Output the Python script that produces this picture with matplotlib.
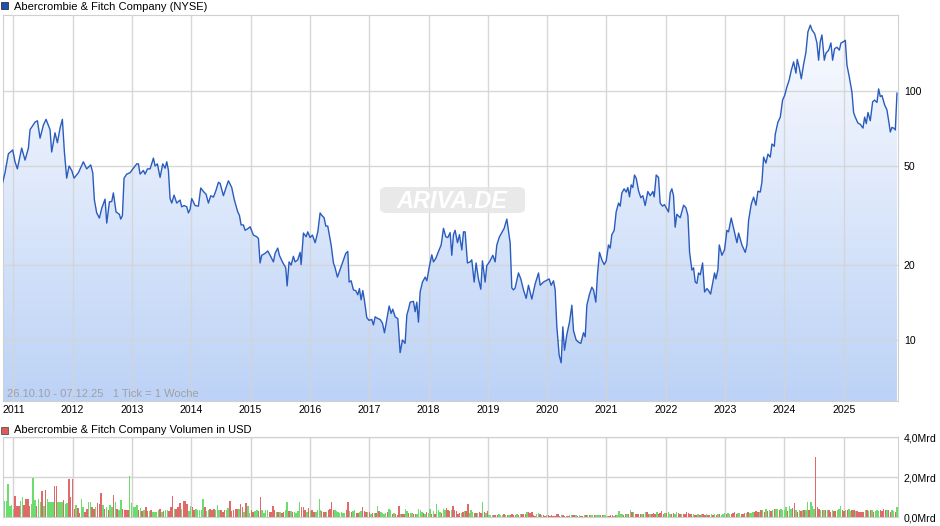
import numpy as np
import matplotlib.pyplot as plt
from matplotlib.colors import LinearSegmentedColormap
from matplotlib.patches import Rectangle, FancyBboxPatch
from matplotlib.ticker import NullLocator

plt.rcParams['font.family'] = ['Liberation Sans', 'DejaVu Sans']

# weekly close (USD), dates as decimal years
dates = [
    2010.821, 2010.860, 2010.917, 2010.990, 2011.029, 2011.068, 2011.141, 2011.198, 2011.254, 2011.282,
    2011.366, 2011.406, 2011.451, 2011.507, 2011.552, 2011.619, 2011.647, 2011.703, 2011.743, 2011.788,
    2011.827, 2011.861, 2011.900, 2011.940, 2011.985, 2012.024, 2012.097, 2012.181, 2012.237, 2012.305,
    2012.339, 2012.367, 2012.406, 2012.451, 2012.490, 2012.547, 2012.575, 2012.620, 2012.659, 2012.687,
    2012.732, 2012.788, 2012.811, 2012.839, 2012.867, 2012.912, 2012.968, 2013.024, 2013.081, 2013.109,
    2013.137, 2013.193, 2013.221, 2013.261, 2013.306, 2013.362, 2013.390, 2013.429, 2013.474, 2013.519,
    2013.558, 2013.587, 2013.615, 2013.643, 2013.671, 2013.710, 2013.755, 2013.811, 2013.839, 2013.879,
    2013.924, 2013.952, 2013.980, 2014.008, 2014.064, 2014.120, 2014.160, 2014.205, 2014.250, 2014.289,
    2014.329, 2014.374, 2014.418, 2014.458, 2014.486, 2014.542, 2014.587,
    2014.626, 2014.682, 2014.727, 2014.784, 2014.812, 2014.840, 2014.879, 2014.907, 2014.952, 2014.992,
    2015.048, 2015.104, 2015.132, 2015.160, 2015.188, 2015.245, 2015.290, 2015.329, 2015.385, 2015.413,
    2015.458, 2015.486, 2015.537, 2015.593, 2015.616, 2015.649, 2015.683, 2015.722, 2015.750, 2015.795,
    2015.835, 2015.852, 2015.891, 2015.936, 2015.964, 2016.003, 2016.043, 2016.088, 2016.133, 2016.172,
    2016.200, 2016.239, 2016.268, 2016.301, 2016.358, 2016.397, 2016.425, 2016.464, 2016.509, 2016.566,
    2016.605, 2016.639, 2016.661, 2016.695, 2016.734, 2016.773, 2016.807, 2016.835, 2016.863, 2016.892,
    2016.920, 2016.959, 2016.998, 2017.043, 2017.071, 2017.100, 2017.144, 2017.184, 2017.223, 2017.257,
    2017.296, 2017.336, 2017.369, 2017.397, 2017.437, 2017.482, 2017.521, 2017.560, 2017.605, 2017.634,
    2017.662, 2017.690, 2017.746, 2017.774, 2017.802, 2017.830, 2017.858, 2017.898, 2017.943, 2017.971,
    2018.010, 2018.055, 2018.083, 2018.123, 2018.168, 2018.213, 2018.252, 2018.291, 2018.325, 2018.364,
    2018.392,
    2018.420, 2018.448, 2018.488, 2018.521, 2018.561, 2018.589, 2018.617, 2018.656, 2018.701, 2018.729,
    2018.769, 2018.802, 2018.842, 2018.881, 2018.909, 2018.954, 2018.982, 2019.027, 2019.084, 2019.123,
    2019.151, 2019.196, 2019.235, 2019.275, 2019.320, 2019.376, 2019.404, 2019.432, 2019.460, 2019.516,
    2019.556, 2019.601, 2019.646, 2019.685, 2019.741, 2019.797, 2019.854, 2019.882, 2019.938, 2019.994,
    2020.033, 2020.067, 2020.107, 2020.135, 2020.163, 2020.202, 2020.236, 2020.264, 2020.292, 2020.331,
    2020.376, 2020.416, 2020.444, 2020.489, 2020.528, 2020.567, 2020.612, 2020.641, 2020.669, 2020.714,
    2020.753, 2020.781, 2020.820, 2020.848, 2020.882, 2020.922, 2020.961, 2020.995, 2021.034, 2021.062,
    2021.090, 2021.130, 2021.163, 2021.203, 2021.231, 2021.259, 2021.298, 2021.332, 2021.360, 2021.388,
    2021.416, 2021.444, 2021.472, 2021.501, 2021.540, 2021.579, 2021.613, 2021.652, 2021.697, 2021.737,
    2021.782, 2021.804, 2021.838, 2021.877, 2021.905, 2021.945, 2021.978, 2022.006, 2022.046, 2022.074,
    2022.102, 2022.130, 2022.158, 2022.186,
    2022.243, 2022.300, 2022.339, 2022.373, 2022.401, 2022.440, 2022.468, 2022.496, 2022.524, 2022.552,
    2022.581, 2022.620, 2022.654, 2022.693, 2022.721, 2022.755, 2022.789, 2022.822, 2022.845, 2022.879,
    2022.901, 2022.946, 2022.991, 2023.030, 2023.058, 2023.103, 2023.143, 2023.199, 2023.227, 2023.283,
    2023.339, 2023.368, 2023.396, 2023.441, 2023.480, 2023.519, 2023.553, 2023.592, 2023.620, 2023.649,
    2023.688, 2023.722, 2023.761, 2023.789, 2023.829, 2023.845, 2023.890, 2023.930, 2023.969, 2024.003,
    2024.042, 2024.081, 2024.115, 2024.155, 2024.194, 2024.216, 2024.250, 2024.284, 2024.323, 2024.362,
    2024.396, 2024.436, 2024.464, 2024.509, 2024.548, 2024.576, 2024.604, 2024.632, 2024.672, 2024.700,
    2024.745, 2024.784, 2024.812, 2024.846, 2024.885, 2024.925, 2024.953, 2024.998, 2025.026, 2025.054,
    2025.093, 2025.138, 2025.166, 2025.194, 2025.239, 2025.279, 2025.324, 2025.352, 2025.380, 2025.408,
    2025.447, 2025.487, 2025.520, 2025.560, 2025.588, 2025.616, 2025.644, 2025.689, 2025.728, 2025.757,
    2025.785, 2025.813, 2025.841, 2025.869, 2025.897,
]
prices = [
    43, 47, 56, 58, 52, 48.7, 59, 52.8, 59, 70,
    75, 76, 64.7, 73, 77, 70, 56.9, 68, 62, 71,
    77, 57, 44.7, 50, 48, 44.7, 47, 52, 48.7, 50.5,
    47, 36.5, 32.4, 30.9, 33.8, 36.8, 29.5, 35.9, 36, 39,
    32.7, 32, 30.6, 31.6, 44.7, 46.4, 47, 49, 51, 51,
    46.4, 48, 46.4, 48.7, 48.7, 53.8, 50, 51, 45, 51,
    49, 52, 48, 37, 35.5, 38.2, 35.5, 36.5, 34.3, 34.7,
    34.3, 32.4, 33.5, 37, 34.7, 34.5, 40.8, 39.5, 38.5, 35.5,
    38, 37.5, 40, 43, 42.6, 38, 41,
    43.6, 41, 36.5, 32.7, 31.7, 29, 29, 27.6, 28, 28.5,
    26.4, 26, 25.6, 20.4, 21.9, 22.3, 22.8, 21.9, 20.6, 22.3,
    23.4, 21.9, 20.6, 19.5, 16.5, 20.6, 20, 21.7, 20.6, 21,
    22.5, 20.1, 26.9, 26, 27.2, 25.8, 26.4, 24.6, 27.2, 32.4,
    31.7, 31, 28.7, 28.7, 24.1, 20.4, 19.5, 17.9, 19.2, 21,
    22.3, 22.7, 17.1, 17.3, 15.9, 15.8, 15.2, 16.1, 14.5, 15.8,
    14.4, 12.3, 12, 12.1, 11.5, 12.4, 12.2, 12.1, 11.7, 10.7,
    12.1, 13.7, 12.8, 13.3, 12.4, 12.2, 8.9, 10, 9.7, 12.6,
    13.3, 14.2, 14.3, 13, 14.2, 11.8, 15.6, 17.1, 17.9, 17.3,
    19.5, 22, 20.6, 21.3, 22.7, 24.1, 28.1, 26, 25.8, 27,
    21.9,
    26.5, 27.6, 24.6, 26.5, 23, 27.2, 27.2, 20.4, 20.6, 21,
    17.1, 20.4, 17.6, 16, 20.8, 17.1, 19.9, 20.6, 21.9, 20.6,
    24.1, 26, 27, 28.1, 30.6, 24.6, 16.2, 15.9, 16.2, 18.6,
    17.6, 15.9, 14.7, 16.6, 14.6, 16.8, 18.6, 16.6, 17.1, 17.4,
    17.6, 16.6, 17.3, 15.9, 11.3, 8.7, 8.1, 11.3, 9.1, 10.5,
    11.8, 13.8, 10.9, 10, 9.8, 9.7, 10.7, 10.3, 13.8, 15.3,
    16.3, 15.9, 14.2, 18.3, 22.5, 21, 20.1, 20.8, 24.1, 23.4,
    26.5, 27.6, 32.7, 35.5, 34.5, 39, 40.5, 39.3, 41, 37.6,
    42, 41, 46, 44.7, 39.8, 37.3, 38, 34.7, 39.5, 38,
    39.5, 37.6, 46, 45, 35.5, 34.5, 35, 34, 32.7, 39,
    40.5, 38, 28.4, 32,
    31, 34.8, 34, 31.6, 22.5, 19.1, 19.5, 17.1, 16.9, 18.6,
    18.3, 20.4, 15.6, 16.1, 15.8, 15.3, 16.9, 18.6, 17.6, 19.2,
    24.1, 21.9, 23.1, 27.6, 27.2, 30.9, 28.1, 24.6, 26.9, 24.1,
    22.5, 24.1, 30.3, 35.2, 37.5, 34.8, 39.6, 39.3, 43, 54.3,
    51.4, 55.8, 54.3, 61.3, 60, 67, 75, 78.6, 92, 96,
    104, 111, 121, 131, 118, 134, 124, 112, 128, 143,
    173, 184, 176, 170, 156, 133, 158, 168, 133, 142,
    146, 156, 133, 148, 150, 146, 156, 158, 160, 127,
    114, 99, 82, 78.6, 74.4, 73.5, 71, 78.6, 74, 82,
    76, 90.6, 92, 90, 102, 95, 96, 88, 84, 76,
    68.5, 71.5, 71, 69.8, 98,
]

years = list(range(2011, 2026))
price_ticks = [10, 20, 50, 100]
vol_ticks = [0, 2, 4]
vol_tick_labels = ['0,0Mrd', '2,0Mrd', '4,0Mrd']

# volume in Mrd USD, three stretches of the time axis; g = up week, r = down week
vol_spans = [(2010.821, 2016.160), (2016.172, 2021.540), (2021.569, 2025.924)]
vol_a = [
    0.74, 0.82, 0.82, 1.67, 0.57, 0.62, 0.41, 1.07, 0.57, 0.57,
    0.82, 1.02, 0.62, 0.90, 0.90, 0.57, 0.66, 1.97, 0.85, 0.57,
    0.90, 0.74, 1.31, 0.57, 1.36, 0.90, 0.74, 0.74, 0.77, 1.56,
    1.56, 0.74, 0.77, 0.77, 0.85, 0.66, 0.69, 1.92, 0.98, 1.92,
    0.41, 0.62, 0.46, 0.20, 0.90, 0.52, 0.25, 0.41, 0.74, 0.77,
    0.49, 0.41, 0.52, 0.70, 0.66, 1.18, 0.62, 0.41, 0.52, 0.33,
    0.61, 0.49, 1.11, 0.77, 0.41, 0.33, 0.85, 0.41, 0.36, 0.36,
    0.33, 2.05, 0.70, 0.49, 0.52, 0.61, 0.33, 0.44, 0.30, 0.33,
    0.52, 0.30, 0.30, 0.33, 0.25, 0.25, 0.25, 0.36, 0.41, 0.25,
    0.30, 0.36, 0.36, 0.30, 0.49, 1.07, 0.41, 0.41, 0.49, 0.69,
    0.41, 0.82, 0.82, 0.66, 0.28, 0.57, 0.49, 0.33, 0.41, 0.33,
    0.36, 0.33, 0.90, 0.49, 0.28, 0.36, 0.41, 0.33, 0.41, 0.33,
    0.62, 0.33, 0.33, 0.25, 0.33, 0.33, 0.44, 0.82, 0.30, 0.36,
    0.41, 0.41, 0.41, 0.66, 0.49, 0.25, 0.72, 0.57, 0.20, 0.36,
    0.25, 0.30, 0.33, 0.30, 1.02, 0.36, 0.20, 0.33, 0.33, 0.25,
    0.25, 0.57, 0.36, 0.25, 0.25, 0.25, 0.20, 0.25, 0.33, 0.74,
    0.28, 0.28, 0.25, 0.25, 0.20, 0.28, 0.77, 0.52, 0.49, 0.36,
    0.25, 0.46, 0.30, 0.33, 0.25, 0.25, 0.36, 0.90,
]
dir_a = ("gggggggrrr" "ggrrrrgggr" "ggrgrggggr" "rgggrggrrr" "rgrrggrrgg"
         "rrgrrrgrgr" "ggrgrggrrr" "rgggggrgrg" "rrgrggggrg" "rggrrrgrrr"
         "grrrggrrgg" "gggrggrrrg" "ggrrrggrrr" "rrgrrgrggr" "rggrrggggr"
         "rrrgrgrrgg" "rgrggggrrr" "grgrrggg")
vol_b = [
    0.33, 0.30, 0.25, 0.25, 0.25, 0.33, 0.38, 0.77, 0.33, 0.36,
    0.30, 0.25, 0.20, 0.25, 0.20, 0.20, 0.33, 0.77, 0.28, 0.25,
    0.30, 0.33, 0.20, 0.20, 0.25, 0.30, 0.49, 0.30, 0.25, 0.25,
    0.25, 0.16, 0.20, 0.20, 0.20, 0.57, 0.28, 0.25, 0.20, 0.16,
    0.20, 0.25, 0.41, 0.36, 0.16, 0.21, 0.16, 0.08, 0.57, 0.16,
    0.13, 0.13, 0.41, 0.28, 0.20, 0.20, 0.20, 0.13, 0.16, 0.16,
    0.41, 0.33, 0.25, 0.20, 0.13, 0.25, 0.20, 0.41, 0.16, 0.28,
    0.16, 0.66, 0.33, 0.25, 0.20, 0.41, 0.33, 0.44, 0.33, 0.30,
    0.33, 0.57, 0.33, 0.30, 0.16, 0.20, 0.20, 0.25, 0.30, 0.28,
    0.66, 0.20, 0.33, 0.25, 0.20, 0.20, 0.20, 0.25, 0.20, 0.77,
    0.25, 0.20, 0.28, 0.08, 0.08, 0.08, 0.08, 0.08, 0.08, 0.16,
    0.11, 0.08, 0.13, 0.08, 0.08, 0.08, 0.08, 0.16, 0.11, 0.08,
    0.13, 0.08, 0.13, 0.13, 0.13, 0.13, 0.25, 0.25, 0.20, 0.25,
    0.08, 0.07, 0.13, 0.20, 0.13, 0.08, 0.08, 0.07, 0.08, 0.08,
    0.07, 0.08, 0.07, 0.07, 0.13, 0.13, 0.07, 0.08, 0.08, 0.03,
    0.03, 0.03, 0.08, 0.08, 0.08, 0.08, 0.08, 0.05, 0.08, 0.03,
    0.03, 0.08, 0.08, 0.08, 0.08, 0.08, 0.08, 0.08, 0.08, 0.08,
    0.08, 0.08, 0.08, 0.08, 0.08, 0.05, 0.05, 0.08, 0.08, 0.05,
    0.08, 0.08, 0.28, 0.16, 0.16, 0.08, 0.13, 0.16, 0.13, 0.33,
    0.25, 0.25, 0.13, 0.16, 0.13,
]
dir_b = ("grrrgrrrrg" "ggggggrrgr" "ggrrggrrrg" "rgrgrgrggg" "grggrgrrrg"
         "rrggrggrrg" "gggrgrggrg" "rgggrggrrr" "grrrrrgrgr" "rgggrrgrrg"
         "rgrgggrrrg" "ggrgrgrrrr" "grgrrrgrrr" "rrggrgrrgr" "rrrrrrrgrr"
         "rrggrrgrgr" "rgrgrggrgg" "grrgggrrrg" "rggggrrgrg" "rgrrr")
vol_c = [
    0.13, 0.16, 0.16, 0.25, 0.25, 0.16, 0.16, 0.16, 0.20, 0.13,
    0.25, 0.16, 0.20, 0.28, 0.16, 0.20, 0.20, 0.25, 0.13, 0.13,
    0.20, 0.16, 0.25, 0.20, 0.16, 0.13, 0.16, 0.13, 0.25, 0.20,
    0.13, 0.13, 0.13, 0.08, 0.08, 0.13, 0.08, 0.13, 0.13, 0.08,
    0.13, 0.08, 0.08, 0.13, 0.08, 0.13, 0.08, 0.13, 0.16, 0.08,
    0.13, 0.20, 0.16, 0.20, 0.16, 0.16, 0.20, 0.25, 0.16, 0.20,
    0.20, 0.16, 0.13, 0.20, 0.20, 0.25, 0.20, 0.20, 0.25, 0.25,
    0.30, 0.25, 0.25, 0.33, 0.36, 0.25, 0.41, 0.30, 0.33, 0.28,
    0.33, 0.41, 0.38, 0.41, 0.33, 0.41, 0.33, 0.36, 0.49, 0.30,
    0.57, 0.41, 0.46, 0.69, 0.33, 0.25, 0.36, 0.30, 0.33, 0.33,
    0.33, 0.74, 0.33, 0.74, 0.57, 0.41, 2.98, 0.49, 0.41, 0.36,
    0.33, 0.33, 0.36, 0.33, 0.36, 0.25, 0.33, 0.28, 0.30, 0.36,
    0.41, 0.57, 0.33, 0.30, 0.36, 0.33, 0.41, 0.30, 0.33, 0.33,
    0.30, 0.30, 0.25, 0.25, 0.25, 0.25, 0.33, 0.36, 0.30, 0.33,
    0.33, 0.25, 0.30, 0.33, 0.30, 0.33, 0.30, 0.41, 0.36, 0.33,
    0.33, 0.25, 0.33, 0.30, 0.25, 0.52, 0.41,
]
dir_c = ("rgrgrrgrrr" "grrrrgrggr" "rggrrgrrrr" "rrgrrgrgrr" "grrgrgrgrg"
         "ggrggrrrrg" "grrrgrgggr" "rrgrgrgrgr" "grggrggggr" "ggrrgrgrgr"
         "ggrgggrrrg" "rgrgrrgrrg" "ggrrgrggrr" "grrrrrgrgr" "grgggrrrrg"
         "rrggrgg")

x_range = (2010.821, 2025.92)
price_range = (5.69, 202)

fig = plt.figure(figsize=(9.4, 5.26), dpi=100)

# price panel
ax = fig.add_axes([0.00287, 0.2376, 0.9528, 0.7338])
ax.set_yscale('log')
ax.set_xlim(*x_range)
ax.set_ylim(*price_range)

area = ax.fill_between(dates, prices, price_range[0], color='none', lw=0)
grad = np.linspace(0, 1, 256).reshape(-1, 1)
cmap = LinearSegmentedColormap.from_list('fill', ['#bcd2f6', '#fbfcff'])
img = ax.imshow(grad, extent=[0, 1, 0, 1], transform=ax.transAxes, origin='lower',
                aspect='auto', cmap=cmap, zorder=1)
img.set_clip_path(area.get_paths()[0], transform=ax.transData)
ax.plot(dates, prices, color='#2a5cbf', lw=1.0, zorder=3)

ax.set_xlim(*x_range)
ax.set_ylim(*price_range)
ax.set_xticks(years)
ax.set_xticklabels([str(y) for y in years])
ax.set_yticks(price_ticks)
ax.set_yticklabels([str(t) for t in price_ticks])
ax.yaxis.set_minor_locator(NullLocator())
ax.set_axisbelow(False)
ax.grid(True, color='#d4d4d4', lw=1, alpha=0.9)
ax.tick_params(axis='x', length=0, labelsize=7.6, pad=3)
ax.tick_params(axis='y', which='both', length=0, labelleft=False, labelright=True,
               labelsize=7.6, pad=4)
for sp in ax.spines.values():
    sp.set_color('#d0d0d0')

ax.text(0.0048, 0.018, '26.10.10 - 07.12.25   1 Tick = 1 Woche', transform=ax.transAxes,
        color='#a0a0a0', fontsize=8, va='center', zorder=4)

# watermark
wm = FancyBboxPatch((380 / 940, 1 - 213 / 526), 145 / 940, 26 / 526,
                    boxstyle='round,pad=0,rounding_size=0.008', transform=fig.transFigure,
                    fc='#e6e6e6', ec='none', alpha=0.85, zorder=2.8)
ax.add_patch(wm)
ax.text(452 / 940, 1 - 201 / 526, 'ARIVA.DE', transform=fig.transFigure, ha='center',
        va='center', fontsize=17, color='white', fontstyle='italic', fontweight='bold',
        zorder=2.9)

# volume panel
vax = fig.add_axes([0.00287, 0.0171, 0.9528, 0.1521])
for (start, end), vals, dirs in zip(vol_spans, [vol_a, vol_b, vol_c], [dir_a, dir_b, dir_c]):
    pos = np.linspace(start, end, len(vals))
    width = (end - start) / (len(vals) - 1) * 0.85
    colors = ['#6cdc6c' if d == 'g' else '#e06a6a' for d in dirs]
    vax.bar(pos, vals, width=width, color=colors, lw=0, zorder=3)
vax.set_xlim(*x_range)
vax.set_ylim(0, 4)
vax.set_xticks(years)
vax.set_yticks(vol_ticks)
vax.set_yticklabels(vol_tick_labels)
vax.grid(True, color='#d4d4d4', lw=1)
vax.set_axisbelow(True)
vax.tick_params(axis='x', length=0, labelbottom=False)
vax.tick_params(axis='y', length=0, labelleft=False, labelright=True, labelsize=7.6, pad=4)
for sp in vax.spines.values():
    sp.set_color('#d0d0d0')

# panel headers
fig.add_artist(Rectangle((1 / 940, 1 - 9 / 526), 7 / 940, 7 / 526, transform=fig.transFigure,
                         fc='#1d4fb8', ec='#333333', lw=0.6))
fig.text(14 / 940, 1 - 7 / 526, 'Abercrombie & Fitch Company (NYSE)', fontsize=8, va='center')
fig.add_artist(Rectangle((1 / 940, 1 - 434 / 526), 7 / 940, 7 / 526, transform=fig.transFigure,
                         fc='#e05a5a', ec='#555555', lw=0.6))
fig.text(14 / 940, 1 - 430 / 526, 'Abercrombie & Fitch Company Volumen in USD', fontsize=8,
         va='center')

fig.savefig('out.png', dpi=100)
